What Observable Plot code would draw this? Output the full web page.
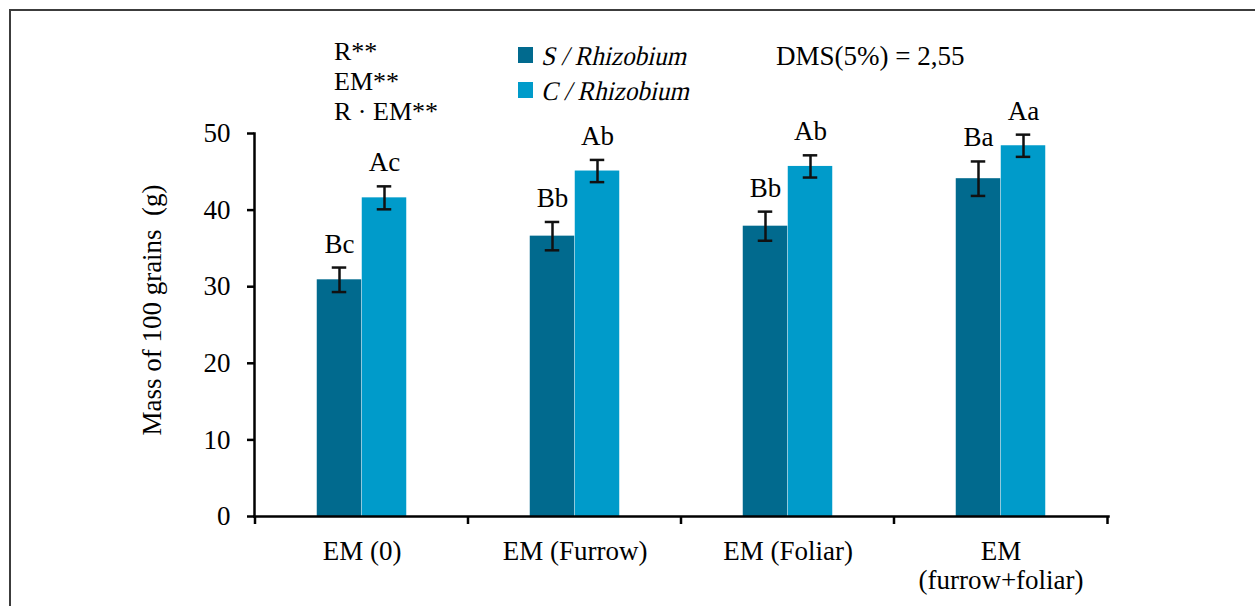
<!DOCTYPE html>
<html><head><meta charset="utf-8">
<script src="https://cdn.jsdelivr.net/npm/d3@7"></script>
<script src="https://cdn.jsdelivr.net/npm/@observablehq/plot@0.6"></script>
<style>
html,body{margin:0;padding:0;background:#fff;overflow:hidden;}
#wrap{position:relative;width:1255px;height:606px;font-family:"Liberation Serif",serif;}
#border{position:absolute;left:9px;top:9px;width:1400px;height:800px;border-top:2px solid #3c3c3c;border-left:2px solid #3c3c3c;}
#chart{position:absolute;left:0;top:0;}
#notes{position:absolute;left:0;top:0;}
</style></head><body>
<div id="wrap"><div id="border"></div><div id="chart"></div><svg id="notes" width="1255" height="606"></svg></div>
<script>
const categories = ["EM (0)", "EM (Furrow)", "EM (Foliar)", "EM\n(furrow+foliar)"];
const seriesNames = ["S / Rhizobium", "C / Rhizobium"];
const sMeans = [30.9, 36.6, 37.9, 44.1];
const sErrors = [1.6, 1.85, 1.9, 2.25];
const sLetters = ["Bc", "Bb", "Bb", "Ba"];
const cMeans = [41.6, 45.1, 45.7, 48.4];
const cErrors = [1.5, 1.45, 1.45, 1.45];
const cLetters = ["Ac", "Ab", "Ab", "Aa"];
const yTicks = [0, 10, 20, 30, 40, 50];
const yLabel = "Mass of 100 grains\u00a0 (g)";
const statNotes = ["R**", "EM**", "R · EM**"];
const dmsNote = "DMS(5%) = 2,55";
const colors = ["#016a8e", "#009bca"];

const FONT = '"Liberation Serif",serif';
const sRows = categories.map((c, i) => ({cat: c, series: seriesNames[0], mean: sMeans[i], err: sErrors[i], letter: sLetters[i]}));
const cRows = categories.map((c, i) => ({cat: c, series: seriesNames[1], mean: cMeans[i], err: cErrors[i], letter: cLetters[i]}));

const W = 1255, H = 606;
const ML = 254, MR = 147, MT = 133, MB = 90;
const barW = 45, capW = 15;
const bwEst = (W - ML - MR) / categories.length;
const barInset = (bwEst - barW) / 2;
const capInset = (bwEst - capW) / 2;

function boundaryTicks(index, scales, values, dimensions) {
  const bw = (dimensions.width - dimensions.marginLeft - dimensions.marginRight) / categories.length;
  const xs = categories.map(c => scales.x(c));
  xs.push(xs[xs.length - 1] + bw);
  const y0 = scales.y(0);
  const g = d3.create("svg:g").attr("stroke", "#000").attr("stroke-width", 2.5);
  g.selectAll("line").data(xs).join("line")
    .attr("x1", d => d).attr("x2", d => d).attr("y1", y0).attr("y2", y0 + 8);
  return g.node();
}

function groupMarks(rows, k) {
  const dx = k === 0 ? -barW / 2 : barW / 2;
  return [
    Plot.barY(rows, {x: "cat", y: "mean", fill: "series", dx, insetLeft: barInset, insetRight: barInset}),
    Plot.ruleX(rows, {x: "cat", y1: d => d.mean - d.err, y2: d => d.mean + d.err, dx, stroke: "#111", strokeWidth: 2.5}),
    Plot.tickY(rows, {x: "cat", y: d => d.mean + d.err, dx, insetLeft: capInset, insetRight: capInset, stroke: "#111", strokeWidth: 2.5}),
    Plot.tickY(rows, {x: "cat", y: d => d.mean - d.err, dx, insetLeft: capInset, insetRight: capInset, stroke: "#111", strokeWidth: 2.5}),
    Plot.text(rows, {x: "cat", y: d => d.mean + d.err, text: "letter", dx, dy: -15, lineAnchor: "bottom", fontSize: 27, fill: "#000"})
  ];
}

const chart = Plot.plot({
  width: W, height: H,
  marginLeft: ML, marginRight: MR, marginTop: MT, marginBottom: MB,
  style: {fontFamily: FONT, fontSize: "27px", color: "#000", background: "transparent", overflow: "visible"},
  x: {domain: categories, padding: 0},
  y: {domain: [0, 50]},
  color: {domain: seriesNames, range: colors},
  marks: [
    ...groupMarks(sRows, 0),
    ...groupMarks(cRows, 1),
    Plot.axisY({ticks: yTicks, tickSize: 7, tickPadding: 17, fontSize: 27, strokeWidth: 2.5, label: null}),
    Plot.axisX({tickSize: 0, tickPadding: 22, fontSize: 27, label: null, lineHeight: 1.1}),
    Plot.frame({anchor: "left", stroke: "#000", strokeWidth: 2.5}),
    Plot.frame({anchor: "bottom", stroke: "#000", strokeWidth: 2.5}),
    boundaryTicks,
    Plot.text([yLabel], {frameAnchor: "left", textAnchor: "middle", rotate: -90, dx: -102, dy: -15, fontSize: 27, fill: "#000"})
  ]
});
document.getElementById("chart").appendChild(chart);

// annotations and legend
const notes = d3.select("#notes").attr("font-family", FONT).attr("font-size", 26);
notes.selectAll("text.stat").data(statNotes).join("text").attr("class", "stat")
  .attr("x", 334).attr("y", (d, i) => 60 + i * 30).attr("fill", "#000").text(d => d);
const leg = notes.selectAll("g.leg").data(seriesNames).join("g").attr("class", "leg")
  .attr("transform", (d, i) => `translate(518,${47 + i * 35})`);
leg.append("rect").attr("width", 15).attr("height", 16).attr("fill", (d, i) => colors[i]);
// oblique serif (no italic serif face is installed): skew the regular face about its baseline
leg.append("g").attr("transform", "translate(23,18)")
  .append("text").attr("transform", "scale(0.93,1) skewX(-14)").attr("font-size", 27).attr("fill", "#000").text(d => d);
notes.append("text").attr("x", 776).attr("y", 65).attr("font-size", 27).attr("fill", "#000").text(dmsNote);
</script>
</body></html>
